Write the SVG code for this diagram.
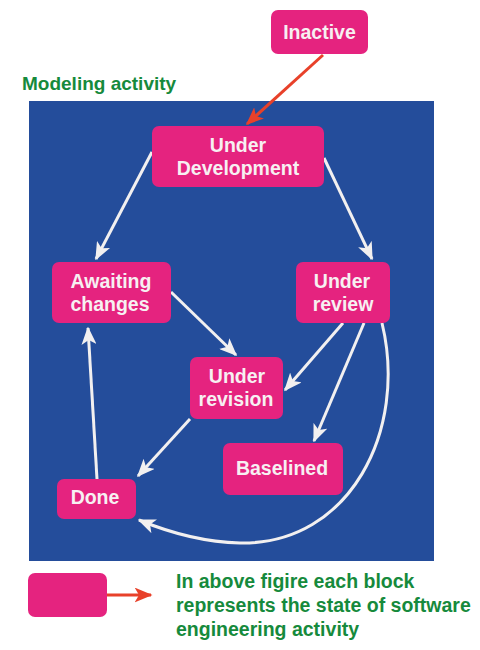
<svg xmlns="http://www.w3.org/2000/svg" width="480" height="650" viewBox="0 0 480 650">
<style>
.node{fill:#e5237f;}
.nt{font-family:"Liberation Sans",Arial,sans-serif;font-weight:bold;font-size:19.5px;fill:#f7f0f2;text-anchor:middle;}
.gt{font-family:"Liberation Sans",Arial,sans-serif;font-weight:bold;font-size:19.5px;fill:#168a3c;}
.w{stroke:#f2f0f0;stroke-width:3;fill:none;marker-end:url(#aw);}
.r{stroke:#e8412a;stroke-width:3;fill:none;marker-end:url(#ar);}
</style>
<defs>
<marker id="aw" viewBox="0 0 12 10" refX="11" refY="5" markerWidth="6" markerHeight="5" markerUnits="strokeWidth" orient="auto">
<path d="M0,0 L12,5 L0,10 L3,5 z" fill="#f2f0f0"/>
</marker>
<marker id="ar" viewBox="0 0 12 10" refX="11" refY="5" markerWidth="6" markerHeight="5" markerUnits="strokeWidth" orient="auto">
<path d="M0,0 L12,5 L0,10 L3,5 z" fill="#e8412a"/>
</marker>
</defs>
<rect x="29" y="101" width="405" height="460" fill="#244d9b"/>
<text class="gt" x="22" y="90" style="font-size:19px">Modeling activity</text>
<g id="connectors">
<path class="r" d="M323,55 L247,124"/>
<path class="w" d="M152,152 L96,259"/>
<path class="w" d="M324,158 L372,259"/>
<path class="w" d="M171,292 L236,355"/>
<path class="w" d="M343,323 L285,390"/>
<path class="w" d="M364,323 L314,441"/>
<path class="w" d="M190,419 L138,476"/>
<path class="w" d="M97,479 L88,328"/>
<path class="w" d="M382,323 C408,430 350,545 240,543 C200,542 168,532 139,520"/>
<path class="r" d="M107,595 L151,595"/>
</g>
<g id="inactive"><rect class="node" x="271" y="10" width="97" height="44" rx="7"/><text class="nt" x="319.5" y="39">Inactive</text></g>
<g id="under-development"><rect class="node" x="152" y="126" width="172" height="61" rx="7"/><text class="nt" x="238" y="152">Under</text><text class="nt" x="238" y="175">Development</text></g>
<g id="awaiting-changes"><rect class="node" x="52" y="262" width="119" height="61" rx="7"/><text class="nt" x="111" y="288">Awaiting</text><text class="nt" x="110" y="311">changes</text></g>
<g id="under-review"><rect class="node" x="296" y="262" width="94" height="61" rx="7"/><text class="nt" x="342" y="288">Under</text><text class="nt" x="343" y="311">review</text></g>
<g id="under-revision"><rect class="node" x="190" y="357" width="93" height="62" rx="7"/><text class="nt" x="237" y="383">Under</text><text class="nt" x="236" y="406">revision</text></g>
<g id="baselined"><rect class="node" x="223" y="443" width="120" height="52" rx="7"/><text class="nt" x="282" y="475">Baselined</text></g>
<g id="done"><rect class="node" x="57" y="479" width="79" height="40" rx="7"/><text class="nt" x="95" y="504">Done</text></g>
<g id="legend"><rect class="node" x="28" y="573" width="79" height="44" rx="7"/>
<text class="gt" x="176" y="588">In above figire each block</text>
<text class="gt" x="176" y="612">represents the state of software</text>
<text class="gt" x="176" y="636">engineering activity</text></g>
</svg>
